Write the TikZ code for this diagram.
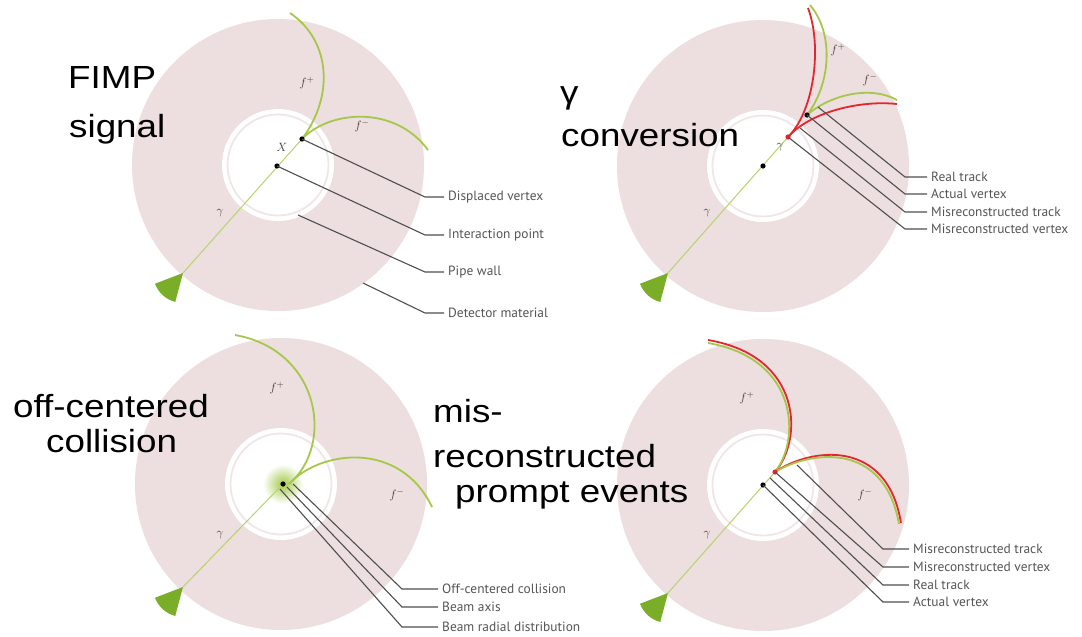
\documentclass[tikz,border=0pt]{standalone}
\usepackage{fontspec}
\setmainfont{PT Sans}
\newfontfamily\slidefont[FakeStretch=1.15]{Liberation Sans}
\definecolor{mDisk}{HTML}{EDDEDF}
\definecolor{mRing}{HTML}{F1E6E7}
\definecolor{mTrack}{HTML}{A6C84A}
\definecolor{mPhoton}{HTML}{B9D26C}
\definecolor{mCone}{HTML}{7AAE28}
\definecolor{mFake}{HTML}{E5262F}
\definecolor{mLeader}{HTML}{4F4F4F}
\definecolor{mText}{HTML}{555555}
\newcommand{\detdisk}[1]{%
 \fill[mDisk] (#1) circle[radius=146];
 \fill[white] (#1) circle[radius=56];
 \draw[mRing, line width=1.8pt] (#1) circle[radius=50.5];}
\newcommand{\photoncone}[1]{%
 \fill[mCone] (#1) -- ++(105:30) arc[start angle=105, end angle=159, radius=30] -- cycle;}
\newcommand{\vdot}[2][black]{\fill[#1] (#2) circle[radius=2.6];}

\begin{document}
\begin{tikzpicture}[x=1pt, y=-1pt,
 track/.style={mTrack, line width=1.8pt},
 fake/.style={mFake, line width=1.8pt},
 photon/.style={mPhoton, line width=1pt},
 leader/.style={mLeader, line width=1.1pt},
 callout/.style={anchor=west, inner sep=4pt, text=mText, font=\fontsize{13.4}{13.4}\selectfont},
 big/.style={anchor=base west, inner sep=0pt, font=\slidefont\fontsize{32}{32}\selectfont},
 sym/.style={inner sep=0pt, text=mText!70!black, font=\fontsize{13}{13}\selectfont}]
\useasboundingbox[fill=white] (0,0) rectangle (1082,637);

\coordinate (c1) at (278,165);
\coordinate (ip1) at (277,166);
\coordinate (dv1) at (302,139);
\coordinate (g1) at (183,273);
\coordinate (wall1) at (298,215);
\coordinate (mat1) at (363,283);
\detdisk{c1}
\photoncone{g1}
\draw[photon] (g1) -- (dv1);
\draw[track] (dv1) .. controls (335,95) and (330,40) .. (290,13);
\draw[track] (dv1) .. controls (330,110) and (395,105) .. (428,150);
\vdot{ip1}
\vdot{dv1}
\node[sym] (x1) at (282,147) {$X$};
\node[sym] (fp1) at (307,83) {$f^+$};
\node[sym] (fm1) at (362,126) {$f^-$};
\node[sym] (gam1) at (220,213) {$\gamma$};
\node[callout] (dvlbl) at (444,197) {Displaced vertex};
\node[callout] (iplbl) at (444,235) {Interaction point};
\node[callout] (walllbl) at (444,272) {Pipe wall};
\node[callout] (matlbl) at (444,313) {Detector material};
\draw[leader] (dv1) -- ([xshift=-19pt]dvlbl.west) -- (dvlbl.west);
\draw[leader] (ip1) -- ([xshift=-19pt]iplbl.west) -- (iplbl.west);
\draw[leader] (wall1) -- ([xshift=-19pt]walllbl.west) -- (walllbl.west);
\draw[leader] (mat1) -- ([xshift=-19pt]matlbl.west) -- (matlbl.west);
\node[big] (fimp) at (68,88) {FIMP};
\node[big] (signal) at (69,137) {signal};

\coordinate (c2) at (763,166);
\coordinate (av2) at (807,115);
\coordinate (mv2) at (788,137);
\coordinate (g2) at (668,273);
\coordinate (rt2) at (818,107);
\coordinate (mt2) at (800,128);
\detdisk{c2}
\photoncone{g2}
\draw[photon] (g2) -- (mv2);
\draw[track] (av2) .. controls (830,85) and (835,35) .. (810,5);
\draw[track] (av2) .. controls (830,95) and (870,85) .. (897,100);
\draw[fake] (mv2) .. controls (815,110) and (822,45) .. (808,8);
\draw[fake] (mv2) .. controls (810,112) and (860,100) .. (897,104);
\vdot{c2}
\vdot{av2}
\vdot[mFake]{mv2}
\node[sym] (fp2) at (838,50) {$f^+$};
\node[sym] (fm2) at (870,80) {$f^-$};
\node[sym] (gam2) at (707,213) {$\gamma$};
\node[sym] (gam2b) at (780,147) {$\gamma$};
\node[callout] (rtlbl2) at (927,177) {Real track};
\node[callout] (avlbl2) at (927,194) {Actual vertex};
\node[callout] (mtlbl2) at (927,212) {Misreconstructed track};
\node[callout] (mvlbl2) at (927,229) {Misreconstructed vertex};
\draw[leader] (rt2) -- ([xshift=-22pt]rtlbl2.west) -- (rtlbl2.west);
\draw[leader] (av2) -- ([xshift=-22pt]avlbl2.west) -- (avlbl2.west);
\draw[leader] (mt2) -- ([xshift=-22pt]mtlbl2.west) -- (mtlbl2.west);
\draw[leader] (mv2) -- ([xshift=-22pt]mvlbl2.west) -- (mvlbl2.west);
\node[big] (gamma) at (560,103) {γ};
\node[big] (conversion) at (561,146) {conversion};

\coordinate (c3) at (281,484);
\coordinate (col3) at (283,484);
\coordinate (g3) at (183,587);
\coordinate (oc3) at (293,484);
\coordinate (ax3) at (287,487);
\coordinate (rad3) at (280,489);
\detdisk{c3}
\shade[inner color=mTrack, outer color=white] (col3) circle[radius=20];
\photoncone{g3}
\draw[photon] (g3) -- (col3);
\draw[track] (289,484) .. controls (335,445) and (320,350) .. (235,335);
\draw[track] (289,484) .. controls (320,450) and (400,440) .. (432,507);
\vdot{col3}
\node[sym] (fp3) at (277,388) {$f^+$};
\node[sym] (fm3) at (397,495) {$f^-$};
\node[sym] (gam3) at (220,535) {$\gamma$};
\node[callout] (oclbl) at (438,589) {Off-centered collision};
\node[callout] (axlbl) at (438,607) {Beam axis};
\node[callout] (radlbl) at (438,627) {Beam radial distribution};
\draw[leader] (oc3) -- ([xshift=-36pt]oclbl.west) -- (oclbl.west);
\draw[leader] (ax3) -- ([xshift=-36pt]axlbl.west) -- (axlbl.west);
\draw[leader] (rad3) -- ([xshift=-36pt]radlbl.west) -- (radlbl.west);
\node[big] (offcentered) at (13,417) {off-centered};
\node[big] (collision) at (46,452) {collision};

\coordinate (c4) at (763,485);
\coordinate (mv4) at (775,472);
\coordinate (g4) at (668,593);
\coordinate (mt4) at (797,465);
\coordinate (rt4) at (770,478);
\detdisk{c4}
\photoncone{g4}
\draw[photon] (g4) -- (mv4);
\draw[fake] (mv4) .. controls (803,440) and (803,356) .. (708,340);
\draw[track] (mv4) .. controls (800,441) and (800,359) .. (708,343);
\draw[fake] (mv4) .. controls (810,448) and (887,437) .. (901,523);
\draw[track] (mv4) .. controls (810,451) and (884,440) .. (899,524);
\vdot{c4}
\vdot[mFake]{mv4}
\node[sym] (fp4) at (747,398) {$f^+$};
\node[sym] (fm4) at (865,495) {$f^-$};
\node[sym] (gam4) at (707,535) {$\gamma$};
\node[callout] (mtlbl4) at (909,549) {Misreconstructed track};
\node[callout] (mvlbl4) at (909,567) {Misreconstructed vertex};
\node[callout] (rtlbl4) at (909,585) {Real track};
\node[callout] (avlbl4) at (909,602) {Actual vertex};
\draw[leader] (mt4) -- ([xshift=-26pt]mtlbl4.west) -- (mtlbl4.west);
\draw[leader] (mv4) -- ([xshift=-26pt]mvlbl4.west) -- (mvlbl4.west);
\draw[leader] (rt4) -- ([xshift=-26pt]rtlbl4.west) -- (rtlbl4.west);
\draw[leader] (c4) -- ([xshift=-26pt]avlbl4.west) -- (avlbl4.west);
\node[big] (mis) at (433,422) {mis-};
\node[big] (reconstructed) at (433,467) {reconstructed};
\node[big] (prompt) at (455,502) {prompt events};
\end{tikzpicture}
\end{document}
